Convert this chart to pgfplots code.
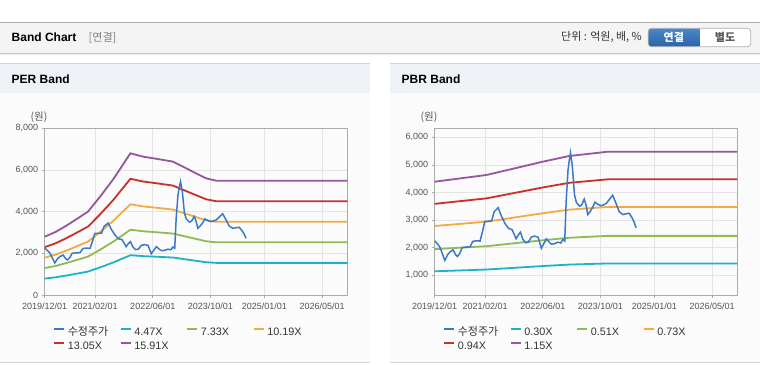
\documentclass[border=0pt]{standalone}
\usepackage{pgfplots}
\usepackage{pgfplotstable}
\pgfplotsset{compat=1.18}
\usepackage{fontspec}
\setmainfont{Liberation Sans}
\newfontfamily\kr{Noto Sans CJK KR}
\definecolor{cprice}{HTML}{3A78C8}
\definecolor{ccyan}{HTML}{1BB3C6}
\definecolor{cgreen}{HTML}{8EBB55}
\definecolor{corange}{HTML}{F3AA40}
\definecolor{cred}{HTML}{C9302C}
\definecolor{cpurple}{HTML}{95569E}
\definecolor{gridc}{HTML}{E4E4E4}
\definecolor{axc}{HTML}{ABABAB}
\definecolor{tickc}{HTML}{555555}
\definecolor{legc}{HTML}{333333}
\definecolor{hdrbg}{HTML}{F4F4F4}
\definecolor{pnlhdr}{HTML}{EEF2F7}
\definecolor{pnlbody}{HTML}{FBFBFB}
\definecolor{pnlline}{HTML}{D4D4D4}
\definecolor{btnTop}{HTML}{4A88C9}
\definecolor{btnBot}{HTML}{2B64A6}

\pgfplotstableread{
m v
0 2250
1.0 2100
1.5 2000
2.8 1540
3.6 1750
4.3 1850
5.1 1920
5.8 1750
6.3 1680
7.0 1800
7.6 2000
8.5 2020
9.8 2030
10.6 2230
11.5 2250
12.6 2240
13.3 2600
13.9 2950
15.0 2960
15.8 2970
16.5 3300
17.6 3450
18.5 3150
19.5 2880
20.5 2700
21.5 2650
22.6 2320
23.3 2480
23.8 2560
24.5 2300
25.2 2180
26.0 2200
26.8 2380
27.7 2420
28.7 2380
29.6 1980
30.3 2150
31.0 2320
31.8 2200
32.4 2130
33.2 2140
34.2 2200
35.0 2170
35.6 2300
36.1 2240
36.5 3700
37.0 4800
37.4 5200
37.7 5440
38.2 4960
38.8 3920
39.3 3650
40.2 3500
40.8 3550
41.5 3760
42.0 3550
42.5 3200
43.1 3300
43.8 3450
44.5 3650
45.2 3580
46.1 3520
47.0 3560
47.6 3600
48.5 3750
49.4 3900
50.2 3650
51.2 3310
52.2 3200
53.2 3230
54.0 3250
54.7 3100
55.3 2950
55.9 2720
}\price

\pgfplotstableread{
m c g o r p
0 787 1290 1793 2297 2800
3 849 1393 1936 2480 3023
6 934 1532 2130 2727 3325
9 1028 1686 2344 3002 3659
12 1124 1843 2562 3281 4000
15.3 1320 2165 3010 3855 4700
19 1559 2557 3554 4552 5549
23.8 1910 3133 4355 5578 6800
27.3 1865 3059 4252 5446 6639
31.5 1833 3005 4178 5351 6523
35.6 1798 2949 4099 5250 6401
41.1 1663 2728 3792 4856 5920
44.8 1573 2580 3587 4594 5600
47.6 1542 2528 3515 4501 5487
84 1542 2528 3515 4501 5487
}\perband

\pgfplotstableread{
m c g o r p
0 1145 1947 2787 3589 4391
14.4 1209 2055 2942 3788 4635
30 1335 2269 3248 4182 5116
37.3 1388 2360 3378 4350 5322
45.6 1420 2413 3454 4448 5442
48 1429 2429 3477 4477 5478
84 1429 2429 3477 4477 5478
}\pbrband

\pgfplotsset{bandaxis/.style={
  scale only axis, width=302.6pt, height=166.7pt, anchor=south west,
  xmin=0, xmax=84, xtick={0,14,30,46,61,77},
  xticklabels={2019/12/01,2021/02/01,2022/06/01,2023/10/01,2025/01/01,2026/05/01},
  grid=major, major grid style={draw=gridc, line width=0.6pt},
  axis line style={draw=axc, line width=0.8pt},
  tick align=outside, xtick pos=left, ytick pos=left, major tick length=3pt,
  tick style={draw=axc, line width=0.6pt},
  ticklabel style={font=\fontsize{9}{10}\selectfont, text=tickc},
  xticklabel style={yshift=-1pt},
  yticklabel style={/pgf/number format/.cd, 1000 sep={,}, assume math mode=true},
  scaled y ticks=false,
  legend columns=4,
  legend image code/.code={\draw[##1, line width=2pt] (0pt,3.7pt) -- (10pt,3.7pt);},
  legend style={at={(axis description cs:0.028,-0.185)}, anchor=north west,
    draw=none, fill=none, inner sep=0pt, row sep=0pt,
    /tikz/every odd column/.append style={column sep=2.5pt},
    nodes={text width=52pt, align=left, inner xsep=0pt, inner ysep=1.5pt,
      text height=8.2pt, text depth=2.5pt, font=\fontsize{10.8}{12}\selectfont, text=legc}},
}}

\begin{document}
\begin{tikzpicture}[x=1pt,y=1pt]
\useasboundingbox (0,0) rectangle (760,364);
\fill[white] (0,0) rectangle (760,364);
% top header
\fill[hdrbg] (0,311) rectangle (760,341.5);
\draw[color=axc, line width=1pt] (0,341.5) -- (760,341.5);
\draw[color=black!22, line width=1pt] (0,310.8) -- (760,310.8);
\draw[color=black!8, line width=1pt] (0,309.8) -- (760,309.8);
\node[anchor=west, inner sep=0pt, font=\bfseries\fontsize{12}{14}\selectfont] at (11.5,326.5) {Band Chart};
\node[anchor=west, inner sep=0pt, font=\kr\fontsize{11}{13}\selectfont, text=black!50] at (88.5,326.5) {[연결]};
\node[anchor=east, inner sep=0pt, font=\kr\fontsize{11}{13}\selectfont, text=legc] at (642,326.5) {단위 : 억원, 배, \%};
% buttons
\fill[white, rounded corners=3pt] (648.3,317.3) rectangle (750.7,335.7);
\begin{scope}
\clip[rounded corners=3pt] (648.3,317.3) rectangle (750.7,335.7);
\shade[top color=btnTop, bottom color=btnBot] (648.3,317.3) rectangle (699.3,335.7);
\end{scope}
\draw[color=black!30, rounded corners=3pt, line width=0.8pt] (648.3,317.3) rectangle (750.7,335.7);
\node[text=white, font=\kr\bfseries\fontsize{11}{13}\selectfont] at (673.8,326.5) {연결};
\node[text=black!65, font=\kr\bfseries\fontsize{11}{13}\selectfont] at (725,326.5) {별도};
% panels
\foreach \xa/\xb in {0/370, 390/760}{
  \fill[pnlbody] (\xa,1.3) rectangle (\xb,271);
  \fill[pnlhdr] (\xa,271) rectangle (\xb,300);
  \draw[pnlline, line width=1pt] (\xa,300) -- (\xb,300);
  \draw[pnlline, line width=1pt] (\xa,1.3) -- (\xb,1.3);
}
\node[anchor=west, inner sep=0pt, font=\bfseries\fontsize{12}{14}\selectfont] at (11.5,284.5) {PER Band};
\node[anchor=west, inner sep=0pt, font=\bfseries\fontsize{12}{14}\selectfont] at (401.5,284.5) {PBR Band};
\node[font=\kr\fontsize{10.5}{12}\selectfont, text=tickc] at (39,246.5) {(원)};
\node[font=\kr\fontsize{10.5}{12}\selectfont, text=tickc] at (429,246.5) {(원)};

% PER axis
\begin{axis}[bandaxis, at={(44.7pt,69pt)}, ymin=0, ymax=8000, ytick={0,2000,4000,6000,8000}]
\addlegendimage{cprice}
\addlegendentry{{\kr\fontsize{11}{12}\selectfont 수정주가}}
\addplot[ccyan, line width=1.8pt] table[x=m,y=c] {\perband};
\addlegendentry{4.47X}
\addplot[cgreen, line width=1.8pt] table[x=m,y=g] {\perband};
\addlegendentry{7.33X}
\addplot[corange, line width=1.8pt] table[x=m,y=o] {\perband};
\addlegendentry{10.19X}
\addplot[cred, line width=1.8pt] table[x=m,y=r] {\perband};
\addlegendentry{13.05X}
\addplot[cpurple, line width=1.8pt] table[x=m,y=p] {\perband};
\addlegendentry{15.91X}
\addplot[cprice, line width=1.5pt, forget plot] table[x=m,y=v] {\price};
\end{axis}

% PBR axis
\begin{axis}[bandaxis, at={(434.7pt,69pt)}, ymin=286, ymax=6326, ytick={1000,2000,3000,4000,5000,6000}]
\addlegendimage{cprice}
\addlegendentry{{\kr\fontsize{11}{12}\selectfont 수정주가}}
\addplot[ccyan, line width=1.8pt] table[x=m,y=c] {\pbrband};
\addlegendentry{0.30X}
\addplot[cgreen, line width=1.8pt] table[x=m,y=g] {\pbrband};
\addlegendentry{0.51X}
\addplot[corange, line width=1.8pt] table[x=m,y=o] {\pbrband};
\addlegendentry{0.73X}
\addplot[cred, line width=1.8pt] table[x=m,y=r] {\pbrband};
\addlegendentry{0.94X}
\addplot[cpurple, line width=1.8pt] table[x=m,y=p] {\pbrband};
\addlegendentry{1.15X}
\addplot[cprice, line width=1.5pt, forget plot] table[x=m,y=v] {\price};
\end{axis}
\end{tikzpicture}
\end{document}
